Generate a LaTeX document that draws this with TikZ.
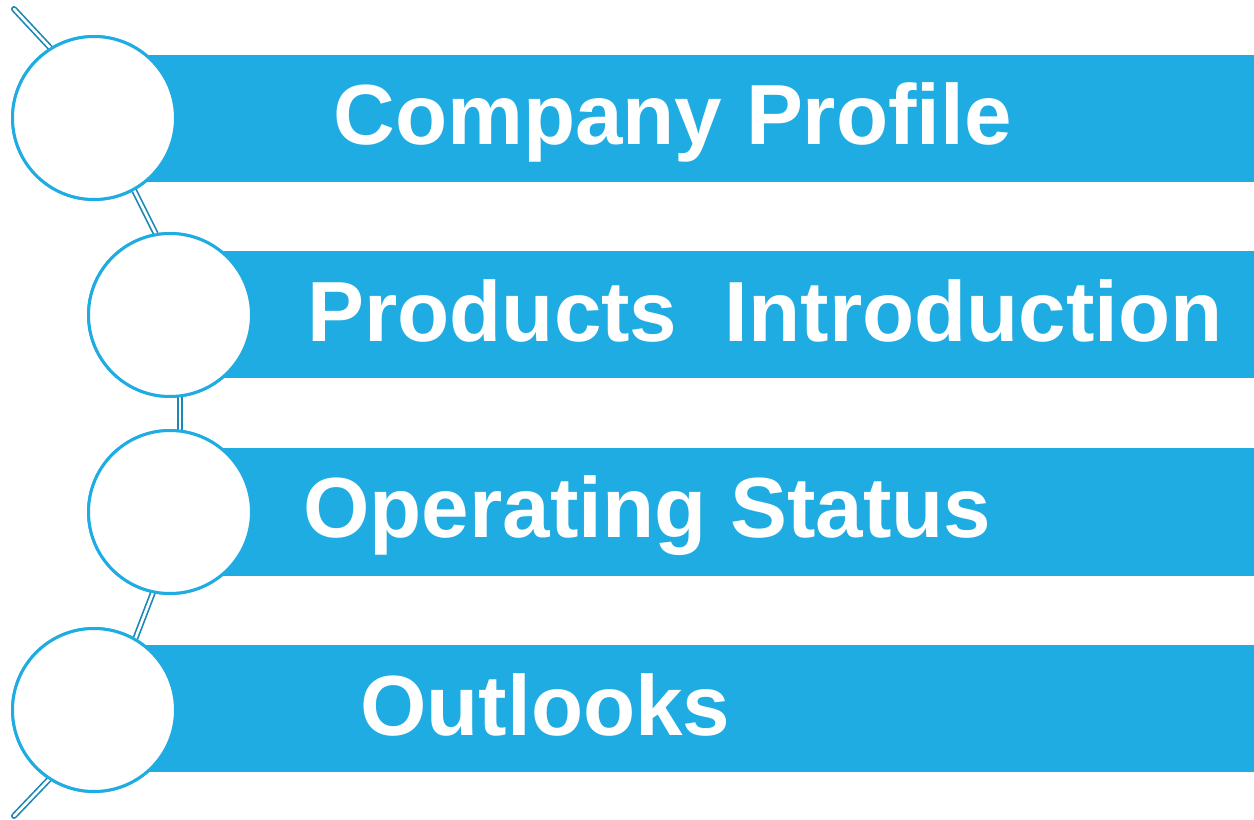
\documentclass[tikz,border=0pt]{standalone}
\usepackage{fontspec}
\setmainfont{Liberation Sans}
\definecolor{barblue}{HTML}{1FACE2}
\definecolor{linkblue}{HTML}{1A88B5}
\begin{document}
\begin{tikzpicture}[x=0.02cm,y=-0.02cm,
  bar/.style={fill=barblue},
  ring/.style={circle,draw=barblue,line width=1.7pt,fill=white,minimum size=3.26cm,inner sep=0pt},
  link/.style={draw=linkblue,double=white,line width=0.95pt,double distance=1.5pt,line cap=round},
  label/.style={anchor=base west,text=white,inner sep=0pt,font=\bfseries\fontsize{48.6}{50}\selectfont}]
\useasboundingbox (0,0) rectangle (1254,820);
% bars
\fill[bar] (94,55) rectangle (1254,182);
\fill[bar] (170,251) rectangle (1254,378);
\fill[bar] (170,448) rectangle (1254,576);
\fill[bar] (94,645) rectangle (1254,772);
% circles (positions)
\node[ring] (c1) at (94,118) {};
\node[ring] (c2) at (170,315) {};
\node[ring] (c3) at (170,512) {};
\node[ring] (c4) at (94,710) {};
\coordinate (top) at (14,9);
\coordinate (bot) at (14,816);
% connectors
\draw[link] (top) -- (c1.122);
\draw[link] (c1.-61) -- (c2.100);
\draw[link] (c2.-83) -- (c3.83);
\draw[link] (c3.-102) -- (c4.60);
\draw[link] (c4.-123) -- (bot);
% redraw circles on top
\node[ring] at (c1) {};
\node[ring] at (c2) {};
\node[ring] at (c3) {};
\node[ring] at (c4) {};
% texts
\node[label] (t1) at (333,145) {Company Profile};
\node[label] (t2) at (307,342) {Products\ \ Introduction};
\node[label] (t3) at (303,538) {Operating Status};
\node[label] (t4) at (360,735) {Outlooks};
\end{tikzpicture}
\end{document}
